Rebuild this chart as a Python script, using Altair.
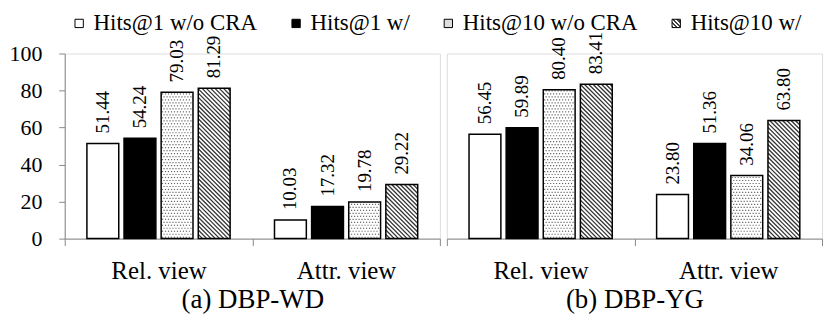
import altair as alt
import pandas as pd

# ---------------- data ----------------
datasets = ["(a) DBP-WD", "(b) DBP-YG"]
views = ["Rel. view", "Attr. view"]
series = ["Hits@1 w/o CRA", "Hits@1 w/", "Hits@10 w/o CRA", "Hits@10 w/"]
wd_rel = [51.44, 54.24, 79.03, 81.29]
wd_attr = [10.03, 17.32, 19.78, 29.22]
yg_rel = [56.45, 59.89, 80.40, 83.41]
yg_attr = [23.80, 51.36, 34.06, 63.80]
y_ticks = [0, 20, 40, 60, 80, 100]

table = {datasets[0]: [wd_rel, wd_attr], datasets[1]: [yg_rel, yg_attr]}
rows = []
for d in datasets:
    for g, v in enumerate(views):
        for s, name in enumerate(series):
            rows.append({"dataset": d, "view": v, "g": g, "series": name,
                         "s": s, "value": table[d][g][s]})
df = pd.DataFrame(rows)

# ---------------- layout / style constants ----------------
W = 377          # panel width (px)
H = 186          # panel height (px)
PX = W / 2.0     # px per group unit
PY = H / 100.0   # px per y unit
BAR_PX = 32.0
STEP_PX = 37.3
DOT = 3.0
HP = 4.3
FONT = "Liberation Serif, Times New Roman, serif"

stops = []
n = 4
for i in range(n):
    a, b, c = i / n, (i + 0.5) / n, (i + 1) / n
    stops += [f"{{offset: {a:.4f}, color: '#444444'}}", f"{{offset: {b:.4f}, color: '#444444'}}",
              f"{{offset: {b:.4f}, color: '#ffffff'}}", f"{{offset: {c:.4f}, color: '#ffffff'}}"]
HATCH_EXPR = "{gradient: 'linear', x1: 0, y1: 1, x2: 1, y2: 0, stops: [" + ", ".join(stops) + "]}"

x_scale = alt.Scale(domain=[0, 2], nice=False, zero=False)
y_scale = alt.Scale(domain=[0, 100], nice=False)

label_expr = (f"datum.value == 0.5 ? '{views[0]}' : "
              f"datum.value == 1.5 ? '{views[1]}' : ''")


def panel(d, show_y):
    base = alt.Chart(df).transform_filter(alt.datum.dataset == d).transform_calculate(
        xc=f"datum.g + 0.5 + (datum.s - 1.5) * {STEP_PX / PX}",
    ).transform_calculate(
        x0=f"datum.xc - {BAR_PX / (2 * PX)}",
        x1=f"datum.xc + {BAR_PX / (2 * PX)}",
    )

    x_axis = alt.Axis(values=[0, 0.5, 1, 1.5, 2], labelExpr=label_expr, grid=False,
                      tickOpacity={"condition": {"test": "datum.value % 1 == 0", "value": 1}, "value": 0},
                      tickSize=7, labelPadding=13, labelFontSize=25, labelFont=FONT,
                      labelOverlap=False, labelFlush=False, title=d, titleFont=FONT,
                      titleFontSize=27, titlePadding=3, titleFontWeight="normal",
                      labelColor="black", titleColor="black")
    if show_y:
        y_axis = alt.Axis(values=y_ticks, grid=False, title=None, tickSize=6,
                          labelPadding=17, labelFontSize=22, labelFont=FONT,
                          labelColor="black")
    else:
        y_axis = None

    def X(f):
        return alt.X(f, scale=x_scale, axis=x_axis)

    def Y(f):
        return alt.Y(f, scale=y_scale, axis=y_axis)

    fill_layer = base.mark_bar().encode(
        x=X("x0:Q"), x2="x1:Q",
        y=Y("value:Q"), y2=alt.datum(0),
        fill=alt.Fill("series:N",
                      scale=alt.Scale(domain=series,
                                      range=["#ffffff", "#000000", "#dedede", {"expr": HATCH_EXPR}]),
                      legend=alt.Legend(title=None, orient="none", legendX=3, legendY=-42,
                                        direction="horizontal", symbolType="square",
                                        symbolSize=70, symbolStrokeColor="black",
                                        symbolStrokeWidth=1, labelFontSize=23, labelFont=FONT,
                                        labelColor="black",
                                        columnPadding=27, labelOffset=3, labelLimit=400)),
    )

    white_layer = base.transform_filter("datum.s == 2 || datum.s == 3").mark_bar(
        fill="white").encode(
        x=X("x0:Q"), x2="x1:Q", y=Y("value:Q"), y2=alt.datum(0),
    )

    dots = base.transform_filter("datum.s == 2").transform_calculate(
        ncols=f"floor({BAR_PX} / {DOT})",
        nrows=f"ceil(datum.value * {PY} / {DOT})",
    ).transform_calculate(
        idx="sequence(0, datum.ncols * datum.nrows)"
    ).transform_flatten(["idx"]).transform_calculate(
        col="datum.idx % datum.ncols",
        row="floor(datum.idx / datum.ncols)",
    ).transform_calculate(
        u=f"1.4 + datum.col * {DOT} + (datum.row % 2) * {DOT / 2}",
        v=f"1.4 + datum.row * {DOT}",
    ).transform_filter(
        f"datum.u < {BAR_PX - 1} && datum.v < datum.value * {PY} - 1"
    ).transform_calculate(
        px=f"datum.x0 + datum.u / {PX}",
        py=f"datum.v / {PY}",
    ).mark_square(size=1.4, color="#666666", opacity=1).encode(
        x=X("px:Q"), y=Y("py:Q"),
    )

    hatch = base.transform_filter("datum.s == 3").transform_calculate(
        hp=f"datum.value * {PY}",
    ).transform_calculate(
        nl=f"ceil((datum.hp + {BAR_PX}) / {HP})",
    ).transform_calculate(
        k="sequence(1, datum.nl)"
    ).transform_flatten(["k"]).transform_calculate(
        c=f"datum.k * {HP}",
    ).transform_calculate(
        us="max(0, datum.c - datum.hp)",
        vs="min(datum.c, datum.hp)",
        ue=f"min({BAR_PX}, datum.c)",
        ve=f"max(0, datum.c - {BAR_PX})",
    ).transform_filter("datum.ue - datum.us > 0.3").transform_calculate(
        hx=f"datum.x0 + datum.us / {PX}",
        hx2=f"datum.x0 + datum.ue / {PX}",
        hy=f"datum.vs / {PY}",
        hy2=f"datum.ve / {PY}",
    ).mark_rule(color="#333333", strokeWidth=1.3).encode(
        x=X("hx:Q"), x2="hx2:Q", y=Y("hy:Q"), y2="hy2:Q",
    )

    outline = base.mark_bar(fillOpacity=0, stroke="black", strokeWidth=1.5).encode(
        x=X("x0:Q"), x2="x1:Q", y=Y("value:Q"), y2=alt.datum(0),
    )

    labels = base.mark_text(angle=270, align="left", baseline="middle", dx=10,
                            font=FONT, fontSize=19, color="black").encode(
        x=X("xc:Q"), y=Y("value:Q"),
        text=alt.Text("value:Q", format=".2f"),
    )

    return alt.layer(fill_layer, white_layer, dots, hatch, outline, labels).properties(
        width=W, height=H)


chart = alt.hconcat(panel(datasets[0], True), panel(datasets[1], False), spacing=5).resolve_scale(
    x="independent", y="independent", fill="shared"
).configure_view(strokeWidth=0).configure_axis(
    domainColor="black", tickColor="black", labelColor="black", titleColor="black",
    labelFont=FONT, titleFont=FONT, domainWidth=1.5, tickWidth=1.5,
).configure_text(font=FONT).configure_legend(labelFont=FONT).configure(
    padding={"top": 3, "left": 0, "right": 0, "bottom": 0})

chart.save("out.html", embed_options={"renderer": "svg", "actions": False})
